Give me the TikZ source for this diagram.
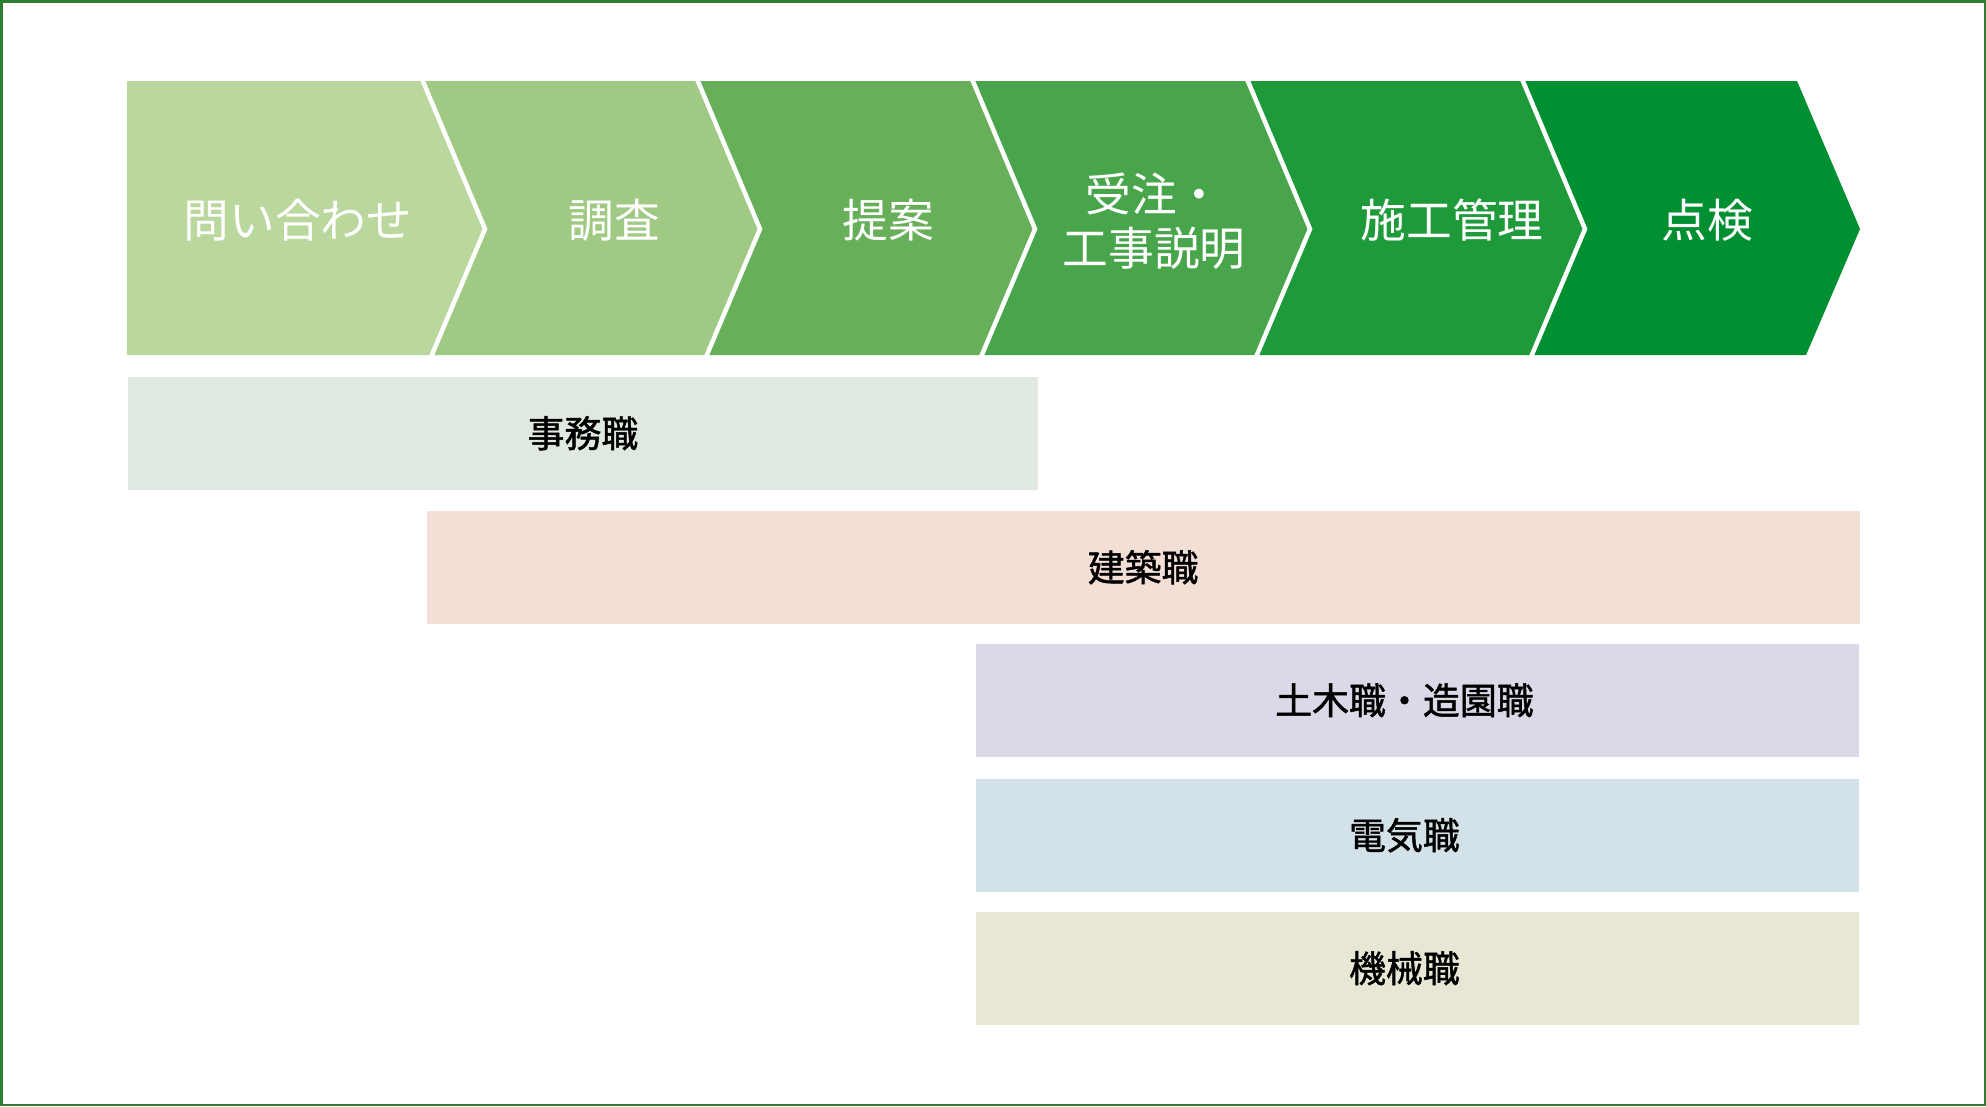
\documentclass[tikz,border=0pt]{standalone}
\usepackage{fontspec}
\newfontfamily\jpfont{Noto Sans CJK JP}
\newfontfamily\jpmedium[FakeBold=1.3]{Noto Sans CJK JP}
\usepackage{tikz}
\usetikzlibrary{positioning}
\definecolor{frame}{RGB}{46,125,50}
\definecolor{stepA}{RGB}{186,215,158}
\definecolor{stepB}{RGB}{160,202,132}
\definecolor{stepC}{RGB}{104,175,90}
\definecolor{stepD}{RGB}{73,165,75}
\definecolor{stepE}{RGB}{31,154,58}
\definecolor{stepF}{RGB}{0,143,49}
\definecolor{jimu}{RGB}{223,233,223}
\definecolor{kenchiku}{RGB}{243,223,214}
\definecolor{doboku}{RGB}{218,217,232}
\definecolor{denki}{RGB}{211,225,232}
\definecolor{kikai}{RGB}{231,231,211}
\tikzstyle{Stage} = [text=white, font=\jpfont\fontsize{13}{15.5}\selectfont, align=center, inner sep=0pt]
\tikzstyle{Bar} = [rectangle, anchor=north west, minimum height=1.13cm, inner sep=0pt]
\tikzstyle{Job} = [text=black, font=\jpmedium\fontsize{10.5}{12}\selectfont, inner sep=0pt]
\tikzstyle{notch} = [white, line width=0.045cm]

\begin{document}
\begin{tikzpicture}[x=0.01cm, y=-0.01cm]
\useasboundingbox (0,0) rectangle (1986,1106);
\draw[frame, line width=0.025cm] (1.25,1.25) rectangle (1984.75,1104.75);

% process chevrons
\fill[stepA] (127,81) -- (422,81) -- (485,229) -- (431,355) -- (127,355) -- cycle;
\fill[stepB] (422,81) -- (697,81) -- (760,229) -- (706,355) -- (431,355) -- (485,229) -- cycle;
\fill[stepC] (697,81) -- (972,81) -- (1035,229) -- (981,355) -- (706,355) -- (760,229) -- cycle;
\fill[stepD] (972,81) -- (1247,81) -- (1310,229) -- (1256,355) -- (981,355) -- (1035,229) -- cycle;
\fill[stepE] (1247,81) -- (1522,81) -- (1585,229) -- (1531,355) -- (1256,355) -- (1310,229) -- cycle;
\fill[stepF] (1522,81) -- (1797,81) -- (1860,229) -- (1806,355) -- (1531,355) -- (1585,229) -- cycle;
\begin{scope}
\clip (127,81) rectangle (1870,355);
\draw[notch] (422,79) -- (485,229) -- (431,357);
\draw[notch] (697,79) -- (760,229) -- (706,357);
\draw[notch] (972,79) -- (1035,229) -- (981,357);
\draw[notch] (1247,79) -- (1310,229) -- (1256,357);
\draw[notch] (1522,79) -- (1585,229) -- (1531,357);
\end{scope}

\node (Toiawase)[Stage] at (298,220) {問い合わせ};
\node (Chosa)[Stage] at (614,220) {調査};
\node (Teian)[Stage] at (888,220) {提案};
\node (Juchu)[Stage] at (1154,221) {受注・\\工事説明};
\node (Seko)[Stage] at (1452,220) {施工管理};
\node (Tenken)[Stage] at (1707,220) {点検};

% job bars
\node (JimuBar)[Bar, fill=jimu, minimum width=9.10cm] at (127,376) {};
\node (KenchikuBar)[Bar, fill=kenchiku, minimum width=14.32cm] at (426,510) {};
\node (DobokuBar)[Bar, fill=doboku, minimum width=8.83cm] at (975,643) {};
\node (DenkiBar)[Bar, fill=denki, minimum width=8.83cm] at (975,778) {};
\node (KikaiBar)[Bar, fill=kikai, minimum width=8.83cm] at (975,911) {};

\node (Jimu)[Job] at (JimuBar.center) {事務職};
\node (Kenchiku)[Job] at (KenchikuBar.center) {建築職};
\node (Doboku)[Job, xshift=-0.13cm] at (DobokuBar.center) {土木職・造園職};
\node (Denki)[Job, xshift=-0.13cm] at (DenkiBar.center) {電気職};
\node (Kikai)[Job, xshift=-0.13cm] at (KikaiBar.center) {機械職};

\end{tikzpicture}
\end{document}
